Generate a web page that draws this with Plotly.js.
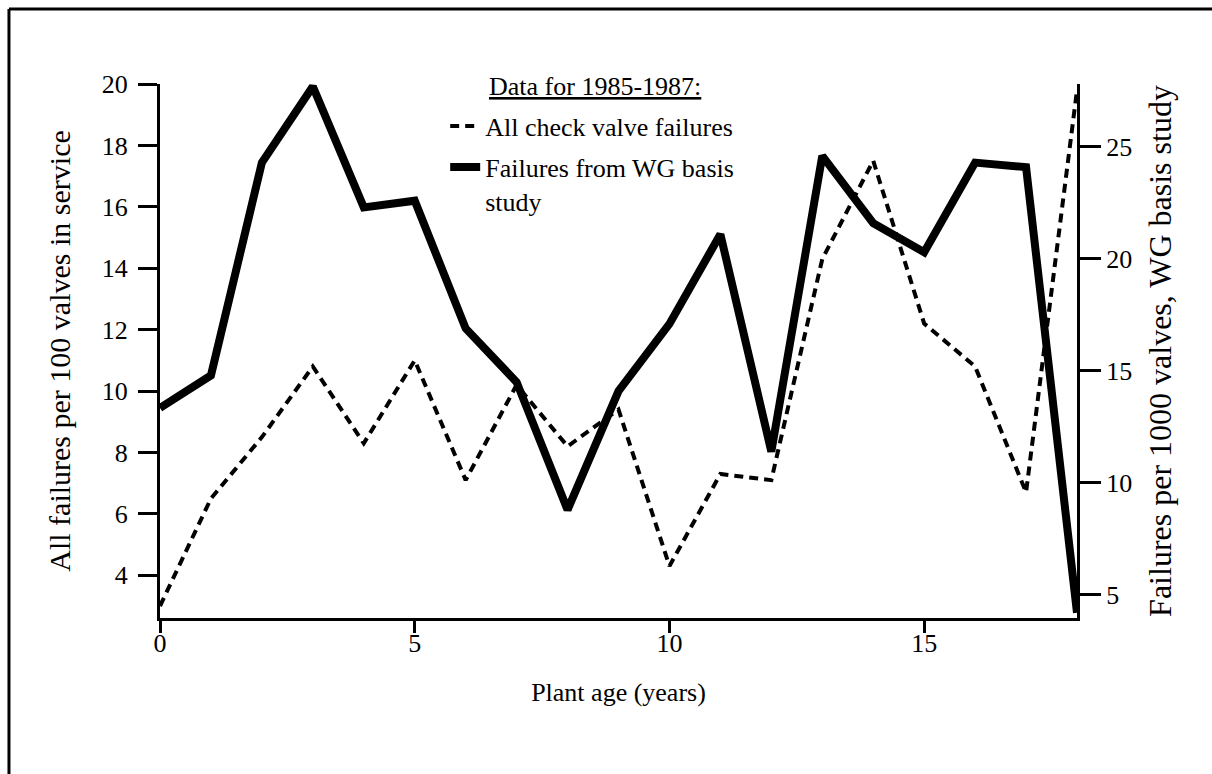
<!DOCTYPE html>
<html>
<head>
<meta charset="utf-8">
<script src="https://cdn.plot.ly/plotly-3.0.1.min.js"></script>
<style>html,body{margin:0;padding:0;background:#fff;}#chart{width:1212px;height:774px;}</style>
</head>
<body>
<div id="chart"></div>
<script>
// Plant age (years)
const plantAge = [0,1,2,3,4,5,6,7,8,9,10,11,12,13,14,15,16,17,18];
// All check valve failures, per 100 valves in service (left axis)
const allFailures = [3.0,6.5,8.5,10.8,8.3,11.0,7.1,10.2,8.2,9.4,4.3,7.3,7.1,14.3,17.5,12.2,10.8,6.7,19.8];
// Failures from WG basis study, per 1000 valves (right axis)
const wgFailures = [13.35,14.8,24.3,27.7,22.3,22.6,16.9,14.5,8.8,14.1,17.1,21.1,11.4,24.6,21.6,20.3,24.3,24.1,4.2];

const seriesNames = ["All check valve failures", "Failures from WG basis<br>study"];
const legendTitle = "<u>Data for 1985-1987:</u>";
const xTickVals = [0,5,10,15];
const yTickVals = [4,6,8,10,12,14,16,18,20];
const y2TickVals = [5,10,15,20,25];

const FONT = "Liberation Serif, Times New Roman, serif";
const f = (s) => ({family: FONT, size: s, color: "#000"});

const traces = [
  {x: plantAge, y: allFailures, name: seriesNames[0], type: "scatter", mode: "lines", legendgroup: "a",
   line: {color: "#000", width: 4, dash: "9px,6px"}, yaxis: "y"},
  {x: plantAge, y: wgFailures, name: seriesNames[1], type: "scatter", mode: "lines", legendgroup: "b",
   line: {color: "#000", width: 8}, yaxis: "y2"}
];

const axisCommon = {showgrid: false, zeroline: false, showline: true, linecolor: "#000", linewidth: 3,
  ticks: "outside", tickcolor: "#000", tickwidth: 3, tickfont: f(26)};

const layout = {
  width: 1212, height: 774,
  paper_bgcolor: "#fff", plot_bgcolor: "#fff",
  margin: {l: 160, r: 135, t: 84, b: 156, autoexpand: false},
  font: f(26),
  showlegend: true,
  legend: {x: 0.311, y: 0.965, xanchor: "left", yanchor: "top", bgcolor: "rgba(0,0,0,0)",
    font: f(26), valign: "top", traceorder: "grouped", tracegroupgap: 4},
  xaxis: Object.assign({}, axisCommon, {range: [0, 18], tickmode: "array", tickvals: xTickVals, ticklen: 12,
    ticklabelstandoff: -12,
    title: {text: "Plant age (years)", font: f(26), standoff: 26}}),
  yaxis: Object.assign({}, axisCommon, {range: [2.61, 20], tickmode: "array", tickvals: yTickVals, ticklen: 19,
    ticklabelstandoff: 5,
    title: {text: "All failures per 100 valves in service", font: f(30), standoff: 23}}),
  yaxis2: Object.assign({}, axisCommon, {range: [3.97, 27.81], tickmode: "array", tickvals: y2TickVals, ticklen: 21,
    overlaying: "y", side: "right", anchor: "x",
    title: {text: "Failures per 1000 valves, WG basis study", font: f(32), standoff: 18}}),
  annotations: [
    {text: legendTitle, xref: "paper", yref: "paper", x: 0.3566, y: 0.995, xanchor: "left", yanchor: "middle",
     showarrow: false, font: f(26)}
  ],
  shapes: [
    {type: "line", xref: "paper", yref: "paper", x0: -0.1647, x1: 1.2, y0: 1.1404, y1: 1.1404, line: {color: "#000", width: 3}},
    {type: "line", xref: "paper", yref: "paper", x0: -0.1647, x1: -0.1647, y0: 1.1404, y1: -0.35, line: {color: "#000", width: 3}}
  ]
};

Plotly.newPlot("chart", traces, layout, {displayModeBar: false, staticPlot: true});
</script>
</body>
</html>
